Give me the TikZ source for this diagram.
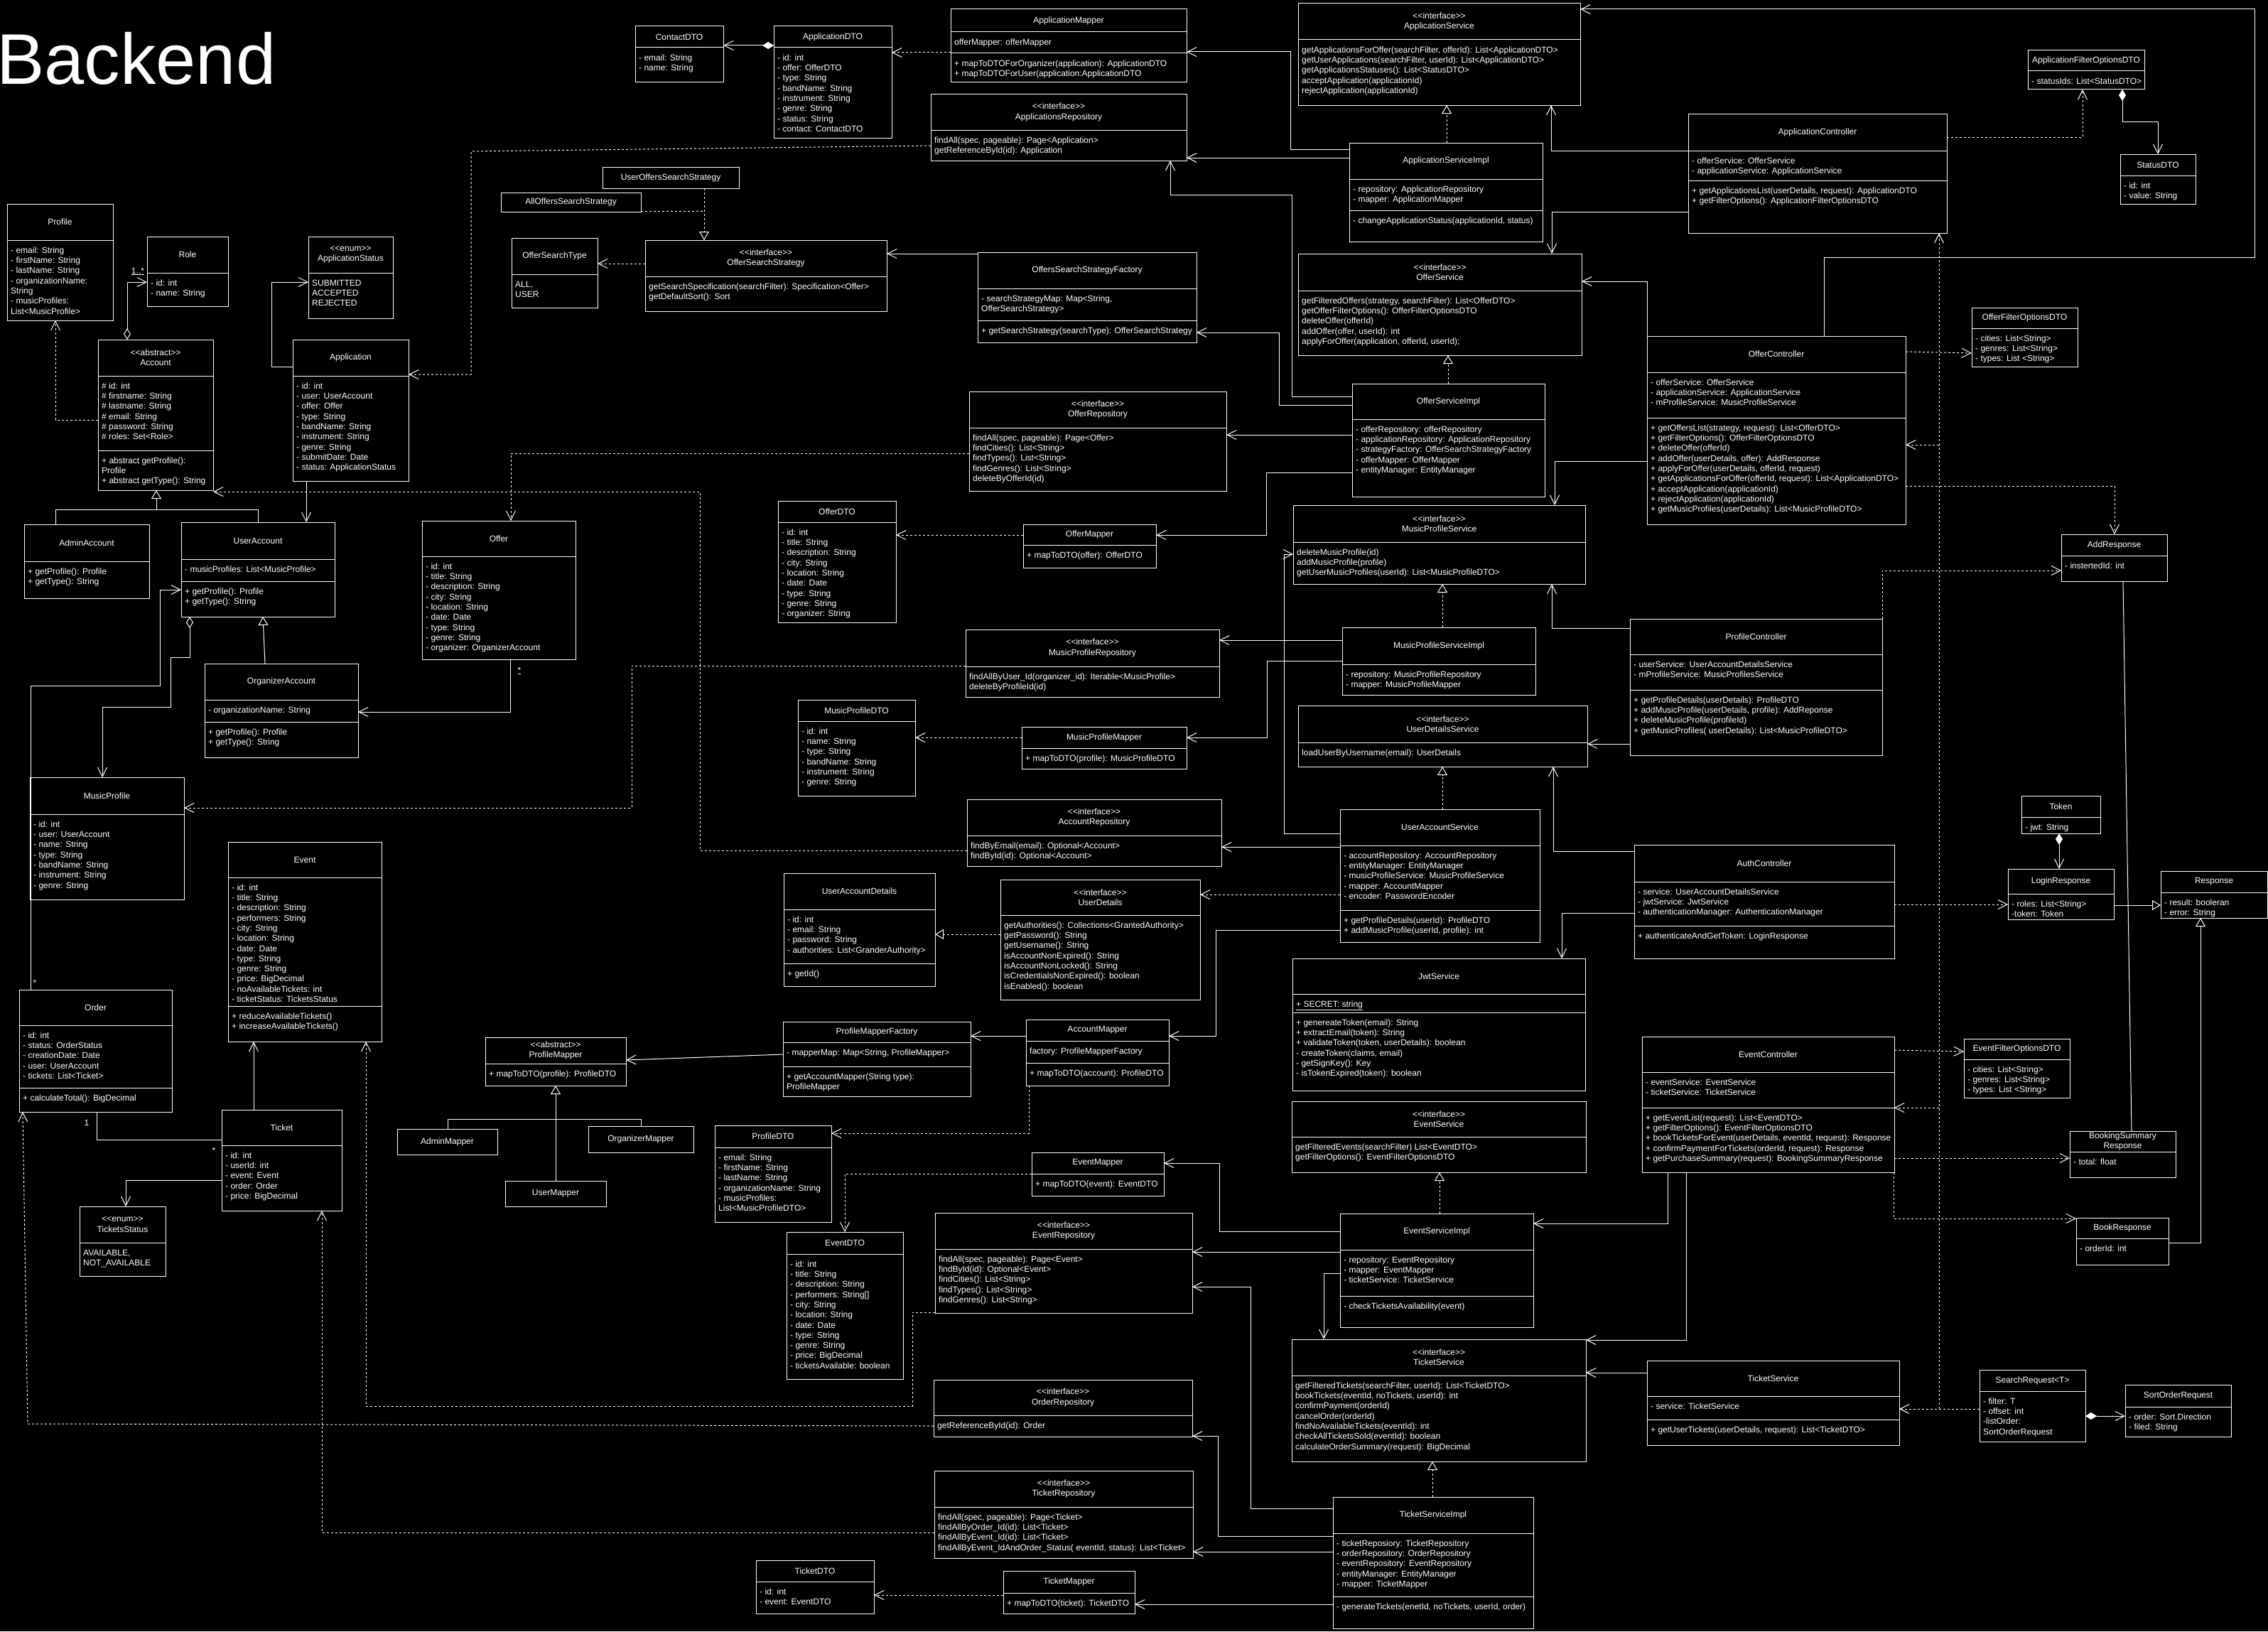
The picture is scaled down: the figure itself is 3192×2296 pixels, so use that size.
\documentclass[tikz,border=0pt]{standalone}
\usepackage{fontspec}
\setmainfont{Liberation Sans}
\usetikzlibrary{arrows.meta,fit}

\newcommand\fs{\fontsize{12}{14.3}\selectfont}
\newcommand\st[1]{<\kern0pt<#1>\kern0pt>}

\tikzset{
  ln/.style={draw=white, line width=1pt},
  box/.style={ln, inner sep=0pt, outer sep=0pt},
  hdr/.style={text=white, align=center, inner sep=0pt, font=\fs},
  body/.style={text=white, align=left, anchor=north west, inner sep=0pt, font=\fs},
  lbl/.style={text=white, inner sep=0pt, font=\fs},
  barb/.tip={Straight Barb[length=13pt,width=13pt,line width=1pt]},
  asc/.style={ln, -barb},
  dep/.style={asc, dash pattern=on 3pt off 3pt},
  real/.style={ln, dash pattern=on 3pt off 3pt, -{Triangle[open,length=12pt,width=14pt,line width=1pt]}},
  gen/.style={ln, -{Triangle[open,length=12pt,width=14pt,line width=1pt]}},
  cmp/.style={ln, {Diamond[length=16pt,width=10pt,fill=white,line width=1pt]}-barb},
  agg/.style={ln, {Diamond[open,length=16pt,width=10pt,line width=1pt]}-barb},
}

% class box: name, x1, y1, x2, y2, bottom of header, header text
\newcommand\cls[7]{%
  \gdef\clsL{#2}\gdef\clsR{#4}%
  \node[box, fit={(#2,#3)(#4,#5)}] (#1) {};
  \node[hdr] at ({(#2+#4)/2},{(#3+#6)/2}) {#7};
}
% compartment of the last class: top edge, text lines
\newcommand\comp[2]{%
  \draw[ln] (\clsL,#1) -- (\clsR,#1);
  \node[body] at ({\clsL+5},{#1+8}) {\strut #2};
}

\begin{document}
\begin{tikzpicture}[x=1pt,y=-1pt]
\useasboundingbox (0,0) rectangle (3192,2296);
\fill[black] (0,0) rectangle (3192,2296);

\node[anchor=base west, inner sep=0pt, text=white, font=\fontsize{101}{104}\selectfont] (title) at (-5,118) {Backend};

% ---------------- domain model ----------------
\cls{Profile}{10}{287}{159}{451}{338}{Profile}
\comp{338}{- email: String\\- firstName: String\\- lastName: String\\- organizationName:\\String\\- musicProfiles:\\List<MusicProfile>}

\cls{Role}{207}{333}{321}{431}{384}{Role}
\comp{384}{- id: int\\- name: String}

\cls{AppStatus}{434}{333}{553}{448}{384}{\st{enum}\\ApplicationStatus}
\comp{384}{SUBMITTED\\ACCEPTED\\REJECTED}

\cls{Account}{138}{478}{300}{690}{529}{\st{abstract}\\Account}
\comp{529}{\# id: int\\\# firstname: String\\\# lastname: String\\\# email: String\\\# password: String\\\# roles: Set<Role>}
\comp{634}{+ abstract getProfile():\\Profile\\+ abstract getType(): String}

\cls{Application}{412}{478}{575}{677}{529}{Application}
\comp{529}{- id: int\\- user: UserAccount\\- offer: Offer\\- type: String\\- bandName: String\\- instrument: String\\- genre: String\\- submitDate: Date\\- status: ApplicationStatus}

\cls{AdminAccount}{34}{738}{210}{842}{790}{AdminAccount}
\comp{790}{+ getProfile(): Profile\\+ getType(): String}

\cls{UserAccount}{255}{735}{471}{868}{787}{UserAccount}
\comp{787}{- musicProfiles: List<MusicProfile>}
\comp{818}{+ getProfile(): Profile\\+ getType(): String}

\cls{Offer}{594}{733}{810}{928}{783}{Offer}
\comp{783}{- id: int\\- title: String\\- description: String\\- city: String\\- location: String\\- date: Date\\- type: String\\- genre: String\\- organizer: OrganizerAccount}

\cls{OrgAccount}{288}{934}{504}{1066}{985}{OrganizerAccount}
\comp{985}{- organizationName: String}
\comp{1016}{+ getProfile(): Profile\\+ getType(): String}

\cls{MusicProfile}{42}{1094}{259}{1266}{1146}{MusicProfile}
\comp{1146}{- id: int\\- user: UserAccount\\- name: String\\- type: String\\- bandName: String\\- instrument: String\\- genre: String}

\cls{Event}{321}{1185}{537}{1466}{1235}{Event}
\comp{1235}{- id: int\\- title: String\\- description: String\\- performers: String\\- city: String\\- location: String\\- date: Date\\- type: String\\- genre: String\\- price: BigDecimal\\- noAvailableTickets: int\\- ticketStatus: TicketsStatus}
\comp{1416}{+ reduceAvailableTickets()\\+ increaseAvailableTickets()}

\cls{Order}{27}{1393}{242}{1565}{1443}{Order}
\comp{1443}{- id: int\\- status: OrderStatus\\- creationDate: Date\\- user: UserAccount\\- tickets: List<Ticket>}
\comp{1531}{+ calculateTotal(): BigDecimal}

\cls{Ticket}{312}{1562}{481}{1704}{1612}{Ticket}
\comp{1612}{- id: int\\- userId: int\\- event: Event\\- order: Order\\- price: BigDecimal}

\cls{TicketsStatus}{112}{1698}{233}{1796}{1749}{\st{enum}\\TicketsStatus}
\comp{1749}{AVAILABLE,\\NOT\_AVAILABLE}

% ---------------- DTOs, mappers, strategies, repositories ----------------
\cls{ContactDTO}{894}{37}{1018}{116}{67}{ContactDTO}
\comp{67}{- email: String\\- name: String}

\cls{AppDTO}{1089}{37}{1255}{194}{67}{ApplicationDTO}
\comp{67}{- id: int\\- offer: OfferDTO\\- type: String\\- bandName: String\\- instrument: String\\- genre: String\\- status: String\\- contact: ContactDTO}

\cls{AppMapper}{1338}{13}{1670}{116}{45}{ApplicationMapper}
\comp{45}{offerMapper: offerMapper}
\comp{75}{+ mapToDTOForOrganizer(application): ApplicationDTO\\+ mapToDTOForUser(application:ApplicationDTO}

\cls{AppsRepo}{1310}{133}{1670}{226}{183}{\st{interface}\\ApplicationsRepository}
\comp{183}{findAll(spec, pageable): Page<Application>\\getReferenceById(id): Application}

\cls{UserOffersStrat}{848}{235}{1040}{265}{265}{UserOffersSearchStrategy}
\cls{AllOffersStrat}{705}{271}{902}{298}{298}{AllOffersSearchStrategy}

\cls{OfferSearchType}{720}{335}{841}{433}{386}{OfferSearchType}
\comp{386}{ALL,\\USER}

\cls{OfferSearchStrat}{908}{338}{1248}{438}{389}{\st{interface}\\OfferSearchStrategy}
\comp{389}{getSearchSpecification(searchFilter): Specification<Offer>\\getDefaultSort(): Sort}

\cls{StratFactory}{1376}{355}{1684}{482}{406}{OffersSearchStrategyFactory}
\comp{406}{- searchStrategyMap: Map<String,\\OfferSearchStrategy>}
\comp{451}{+ getSearchStrategy(searchType): OfferSearchStrategy}

\cls{OfferRepo}{1364}{551}{1726}{691}{602}{\st{interface}\\OfferRepository}
\comp{602}{findAll(spec, pageable): Page<Offer>\\findCities(): List<String>\\findTypes(): List<String>\\findGenres(): List<String>\\deleteByOfferId(id)}

\cls{OfferDTO}{1095}{705}{1261}{876}{735}{OfferDTO}
\comp{735}{- id: int\\- title: String\\- description: String\\- city: String\\- location: String\\- date: Date\\- type: String\\- genre: String\\- organizer: String}

\cls{OfferMapper}{1440}{738}{1627}{799}{767}{OfferMapper}
\comp{767}{+ mapToDTO(offer): OfferDTO}

\cls{ProfileMapper}{683}{1460}{881}{1528}{1497}{\st{abstract}\\ProfileMapper}
\comp{1497}{+ mapToDTO(profile): ProfileDTO}

\cls{MPRepo}{1359}{886}{1716}{981}{938}{\st{interface}\\MusicProfileRepository}
\comp{938}{findAllByUser\_Id(organizer\_id): Iterable<MusicProfile>\\deleteByProfileId(id)}

\cls{MPDTO}{1123}{985}{1288}{1120}{1015}{MusicProfileDTO}
\comp{1015}{- id: int\\- name: String\\- type: String\\- bandName: String\\- instrument: String\\- genre: String}

\cls{MPMapper}{1438}{1023}{1670}{1082}{1053}{MusicProfileMapper}
\comp{1053}{+ mapToDTO(profile): MusicProfileDTO}

\cls{AccountRepo}{1361}{1125}{1719}{1219}{1176}{\st{interface}\\AccountRepository}
\comp{1176}{findByEmail(email): Optional<Account>\\findById(id): Optional<Account>}

\cls{UADetails}{1103}{1229}{1316}{1388}{1280}{UserAccountDetails}
\comp{1280}{- id: int\\- email: String\\- password: String\\- authorities: List<GranderAuthority>}
\comp{1356}{+ getId()}

\cls{UserDetails}{1408}{1238}{1689}{1407}{1288}{\st{interface}\\UserDetails}
\comp{1288}{getAuthorities(): Collections<GrantedAuthority>\\getPassword(): String\\getUsername(): String\\isAccountNonExpired(): String\\isAccountNonLocked(): String\\isCredentialsNonExpired(): boolean\\isEnabled(): boolean}

\cls{PMFactory}{1102}{1438}{1366}{1543}{1467}{ProfileMapperFactory}
\comp{1467}{- mapperMap: Map<String, ProfileMapper>}
\comp{1501}{+ getAccountMapper(String type):\\ProfileMapper}

\cls{AccountMapper}{1444}{1435}{1645}{1528}{1465}{AccountMapper}
\comp{1465}{factory: ProfileMapperFactory}
\comp{1496}{+ mapToDTO(account): ProfileDTO}

\cls{AdminMapper}{559}{1589}{700}{1625}{1625}{AdminMapper}
\cls{UserMapper}{711}{1662}{853}{1698}{1698}{UserMapper}
\cls{OrgMapper}{828}{1585}{976}{1622}{1622}{OrganizerMapper}

\cls{ProfileDTO}{1006}{1584}{1170}{1720}{1615}{ProfileDTO}
\comp{1615}{- email: String\\- firstName: String\\- lastName: String\\- organizationName: String\\- musicProfiles:\\List<MusicProfileDTO>}

\cls{EventMapper}{1452}{1622}{1638}{1683}{1652}{EventMapper}
\comp{1652}{+ mapToDTO(event): EventDTO}

\cls{EventDTO}{1107}{1734}{1271}{1941}{1765}{EventDTO}
\comp{1765}{- id: int\\- title: String\\- description: String\\- performers: String[]\\- city: String\\- location: String\\- date: Date\\- type: String\\- genre: String\\- price: BigDecimal\\- ticketsAvailable: boolean}

\cls{EventRepo}{1316}{1707}{1678}{1848}{1758}{\st{interface}\\EventRepository}
\comp{1758}{findAll(spec, pageable): Page<Event>\\findById(id): Optional<Event>\\findCities(): List<String>\\findTypes(): List<String>\\findGenres(): List<String>}

\cls{OrderRepo}{1314}{1942}{1678}{2022}{1992}{\st{interface}\\OrderRepository}
\comp{1992}{getReferenceById(id): Order}

\cls{TicketRepo}{1315}{2070}{1679}{2193}{2121}{\st{interface}\\TicketRepository}
\comp{2121}{findAll(spec, pageable): Page<Ticket>\\findAllByOrder\_Id(id): List<Ticket>\\findAllByEvent\_Id(id): List<Ticket>\\findAllByEvent\_IdAndOrder\_Status( eventId, status): List<Ticket>}

\cls{TicketDTO}{1064}{2196}{1230}{2271}{2226}{TicketDTO}
\comp{2226}{- id: int\\- event: EventDTO}

\cls{TicketMapper}{1412}{2211}{1597}{2271}{2242}{TicketMapper}
\comp{2242}{+ mapToDTO(ticket): TicketDTO}

% ---------------- services ----------------
\cls{AppService}{1827}{5}{2224}{148}{56}{\st{interface}\\ApplicationService}
\comp{56}{getApplicationsForOffer(searchFilter,  offerId): List<ApplicationDTO>\\getUserApplications(searchFilter, userId): List<ApplicationDTO>\\getApplicationsStatuses(): List<StatusDTO>\\acceptApplication(applicationId)\\rejectApplication(applicationId)}

\cls{AppServiceImpl}{1899}{201}{2171}{340}{252}{ApplicationServiceImpl}
\comp{252}{- repository: ApplicationRepository\\- mapper: ApplicationMapper}
\comp{296}{- changeApplicationStatus(applicationId, status)}

\cls{OfferService}{1827}{357}{2226}{500}{409}{\st{interface}\\OfferService}
\comp{409}{getFilteredOffers(strategy, searchFilter): List<OfferDTO>\\getOfferFilterOptions(): OfferFilterOptionsDTO\\deleteOffer(offerId)\\addOffer(offer, userId): int\\applyForOffer(application, offerId, userId);}

\cls{OfferServiceImpl}{1903}{540}{2174}{699}{590}{OfferServiceImpl}
\comp{590}{- offerRepository: offerRepository\\- applicationRepository: ApplicationRepository\\- strategyFactory: OfferSearchStrategyFactory\\- offerMapper: OfferMapper\\- entityManager: EntityManager}

\cls{MPService}{1820}{711}{2231}{822}{763}{\st{interface}\\MusicProfileService}
\comp{763}{deleteMusicProfile(id)\\addMusicProfile(profile)\\getUserMusicProfiles(userId): List<MusicProfileDTO>}

\cls{MPServiceImpl}{1889}{883}{2161}{978}{935}{MusicProfileServiceImpl}
\comp{935}{- repository: MusicProfileRepository\\- mapper: MusicProfileMapper}

\cls{UDService}{1827}{993}{2234}{1079}{1045}{\st{interface}\\UserDetailsService}
\comp{1045}{loadUserByUsername(email): UserDetails}

\cls{UAService}{1886}{1139}{2167}{1326}{1190}{UserAccountService}
\comp{1190}{- accountRepository: AccountRepository\\- entityManager: EntityManager\\- musicProfileService: MusicProfileService\\- mapper: AccountMapper\\- encoder: PasswordEncoder}
\comp{1281}{+ getProfileDetails(userId): ProfileDTO\\+ addMusicProfile(userId, profile): int}

\cls{JwtService}{1819}{1349}{2231}{1535}{1399}{JwtService}
\comp{1399}{\underline{+ SECRET: string}}
\comp{1425}{+ genereateToken(email): String\\+ extractEmail(token): String\\+ validateToken(token, userDetails): boolean\\- createToken(claims, email)\\- getSignKey(): Key\\- isTokenExpired(token): boolean}

\cls{EventService}{1818}{1550}{2232}{1650}{1600}{\st{interface}\\EventService}
\comp{1600}{getFilteredEvents(searchFilter) List<EventDTO>\\getFilterOptions(): EventFilterOptionsDTO}

\cls{EventServiceImpl}{1886}{1708}{2158}{1868}{1759}{EventServiceImpl}
\comp{1759}{- repository: EventRepository\\- mapper: EventMapper\\- ticketService: TicketService}
\comp{1824}{- checkTicketsAvailability(event)}

\cls{TicketService}{1818}{1885}{2232}{2057}{1936}{\st{interface}\\TicketService}
\comp{1936}{getFilteredTickets(searchFilter, userId): List<TicketDTO>\\bookTickets(eventId, noTickets, userId): int\\confirmPayment(orderId)\\cancelOrder(orderId)\\findNoAvailableTickets(eventId): int\\checkAllTicketsSold(eventId): boolean\\calculateOrderSummary(request): BigDecimal}

\cls{TicketServiceImpl}{1876}{2107}{2158}{2292}{2158}{TicketServiceImpl}
\comp{2158}{- ticketReposiory: TicketRepository\\- orderRepository: OrderRepository\\- eventRepository: EventRepository\\- entityManager: EntityManager\\- mapper: TicketMapper}
\comp{2247}{- generateTickets(enetId, noTickets, userId, order)}

% ---------------- controllers ----------------
\cls{AppController}{2376}{160}{2740}{328}{212}{ApplicationController}
\comp{212}{- offerService: OfferService\\- applicationService: ApplicationService}
\comp{254}{+ getApplicationsList(userDetails, request): ApplicationDTO\\+ getFilterOptions(): ApplicationFilterOptionsDTO}

\cls{OfferController}{2318}{473}{2682}{738}{524}{OfferController}
\comp{524}{- offerService: OfferService\\- applicationService: ApplicationService\\- mProfileService: MusicProfileService}
\comp{588}{+ getOffersList(strategy, request): List<OfferDTO>\\+ getFilterOptions(): OfferFilterOptionsDTO\\+ deleteOffer(offerId)\\+ addOffer(userDetails, offer): AddResponse\\+ applyForOffer(userDetails, offerId, request)\\+ getApplicationsForOffer(offerId, request): List<ApplicationDTO>\\+ acceptApplication(applicationId)\\+ rejectApplication(applicationId)\\+ getMusicProfiles(userDetails): List<MusicProfileDTO>}

\cls{ProfileController}{2294}{871}{2649}{1063}{921}{ProfileController}
\comp{921}{- userService: UserAccountDetailsService\\- mProfileService: MusicProfilesService}
\comp{971}{+ getProfileDetails(userDetails): ProfileDTO\\+ addMusicProfile(userDetails, profile): AddReponse\\+ deleteMusicProfile(profileId)\\+ getMusicProfiles( userDetails): List<MusicProfileDTO>}

\cls{AuthController}{2300}{1189}{2666}{1349}{1241}{AuthController}
\comp{1241}{- service: UserAccountDetailsService\\- jwtService: JwtService\\- authenticationManager: AuthenticationManager}
\comp{1303}{+ authenticateAndGetToken: LoginResponse}

\cls{EventController}{2311}{1459}{2666}{1650}{1509}{EventController}
\comp{1509}{- eventService: EventService\\- ticketService: TicketService}
\comp{1559}{+ getEventList(request): List<EventDTO>\\+ getFilterOptions(): EventFilterOptionsDTO\\+ bookTicketsForEvent(userDetails, eventId, request): Response\\+ confirmPaymentForTickets(orderId, request): Response\\+ getPurchaseSummary(request): BookingSummaryResponse}

\cls{TicketCtrl}{2318}{1915}{2673}{2034}{1965}{TicketService}
\comp{1965}{- service: TicketService}
\comp{1998}{+ getUserTickets(userDetails, request): List<TicketDTO>}

% ---------------- request / response objects ----------------
\cls{AppFilterDTO}{2854}{71}{3018}{126}{100}{ApplicationFilterOptionsDTO}
\comp{100}{- statusIds: List<StatusDTO>}

\cls{StatusDTO}{2984}{217}{3090}{287}{247}{StatusDTO}
\comp{247}{- id: int\\- value: String}

\cls{OfferFilterDTO}{2775}{433}{2924}{516}{462}{OfferFilterOptionsDTO}
\comp{462}{- cities: List<String>\\- genres: List<String>\\- types: List <String>}

\cls{AddResponse}{2901}{752}{3050}{818}{782}{AddResponse}
\comp{782}{- instertedId: int}

\cls{Token}{2845}{1120}{2956}{1173}{1150}{Token}
\comp{1150}{- jwt: String}

\cls{LoginResponse}{2826}{1223}{2975}{1294}{1258}{LoginResponse}
\comp{1258}{- roles: List<String>\\-token: Token}

\cls{Response}{3041}{1226}{3191}{1292}{1256}{Response}
\comp{1256}{- result: booleran\\- error: String}

\cls{EventFilterDTO}{2764}{1462}{2913}{1545}{1491}{EventFilterOptionsDTO}
\comp{1491}{- cities: List<String>\\- genres: List<String>\\- types: List <String>}

\cls{BookingSummary}{2913}{1592}{3062}{1657}{1621}{BookingSummary\\Response}
\comp{1621}{- total: float}

\cls{BookResponse}{2922}{1714}{3052}{1780}{1743}{BookResponse}
\comp{1743}{- orderId: int}

\cls{SearchRequest}{2786}{1928}{2935}{2029}{1958}{SearchRequest<T>}
\comp{1958}{- filter: T\\- offset: int\\-listOrder:\\SortOrderRequest}

\cls{SortOrder}{2991}{1949}{3140}{2022}{1980}{SortOrderRequest}
\comp{1980}{- order: Sort.Direction\\- filed: String}

% ---------------- connectors: domain ----------------
\draw[agg] (Account.north-|179,0) |- (Role.west|-0,397);
\node[lbl] at (194,382) {\underline{1..*}};
\draw[dep] (Account.west|-0,591) -| (Profile.south-|78,0);
\draw[asc] (Application.west|-0,516) -- (382,516) |- (AppStatus.west|-0,397);
\draw[asc] (Application.south-|431,0) -- (UserAccount.north-|431,0);
\draw[dep] (AppsRepo.west|-0,205) -- (663,213) -- (663,527) -- (Application.east|-0,527);
\draw[gen] (AdminAccount.north-|78,0) |- (220,717) -- (Account.south-|220,0);
\draw[ln] (UserAccount.north-|363,0) |- (220,717);
\draw[dep] (OfferRepo.west|-0,638) -| (Offer.north-|719,0);
\draw[dep] (AccountRepo.west|-0,1197) -| (985,692) -- (Account.east|-0,692);
\draw[dep] (MPRepo.west|-0,937) -| (889,1137) -- (MusicProfile.east|-0,1137);
\draw[agg] (UserAccount.south-|267,0) -- (267,925) -- (240,925) -- (240,995) -- (144,995) -- (MusicProfile.north-|144,0);
\draw[asc] (Order.north-|43,0) -- (43,965) -- (225,965) -- (225,830) -- (UserAccount.west|-0,830);
\node[lbl] at (49,1383) {*};
\draw[gen] (OrgAccount.north-|373,0) -- (UserAccount.south-|370,0);
\draw[asc] (Offer.south-|718,0) |- (OrgAccount.east|-0,1002);
\node[lbl] at (731,944) {\underline{*}};
\draw[asc] (Ticket.north-|357,0) -- (Event.south-|357,0);
\draw[dep] (EventRepo.west|-0,1847) -| (1284,1979) -| (Event.south-|515,0);
\draw[ln] (Order.south-|136,0) |- (Ticket.west|-0,1604);
\node[lbl] at (122,1580) {1};
\node[lbl] at (301,1619) {*};
\draw[asc] (Ticket.west|-0,1661) -| (TicketsStatus.north-|177,0);
\draw[dep] (OrderRepo.west|-0,2007) -- (39,2004) -- (Order.south-|32,0);
\draw[dep] (TicketRepo.west|-0,2157) -| (Ticket.south-|453,0);
\draw[gen] (AdminMapper.north-|630,0) -- (630,1575) -- (782,1575) -- (ProfileMapper.south-|782,0);
\draw[ln] (OrgMapper.north-|902,0) |- (782,1575);
\draw[ln] (UserMapper.north-|782,0) -- (782,1575);

% ---------------- connectors: DTOs, strategies, mappers ----------------
\draw[cmp] (AppDTO.west|-0,64) -- (ContactDTO.east|-0,64);
\draw[dep] (AppMapper.west|-0,74) -- (AppDTO.east|-0,74);
\draw[real] (UserOffersStrat.south-|991,0) -- (OfferSearchStrat.north-|991,0);
\draw[ln, dash pattern=on 3pt off 3pt] (AllOffersStrat.east|-0,297) -- (991,297);
\draw[dep] (OfferSearchStrat.west|-0,371) -- (OfferSearchType.east|-0,371);
\draw[asc] (StratFactory.west|-0,357) -- (OfferSearchStrat.east|-0,357);
\draw[dep] (OfferMapper.west|-0,753) -- (OfferDTO.east|-0,753);
\draw[dep] (MPMapper.west|-0,1038) -- (MPDTO.east|-0,1038);
\draw[real] (UserDetails.west|-0,1315) -- (UADetails.east|-0,1315);
\draw[asc] (PMFactory.west|-0,1484) -- (ProfileMapper.east|-0,1492);
\draw[asc] (AccountMapper.west|-0,1458) -- (PMFactory.east|-0,1458);
\draw[dep] (AccountMapper.south-|1448,0) |- (ProfileDTO.east|-0,1595);
\draw[dep] (EventMapper.west|-0,1652) -| (EventDTO.north-|1189,0);
\draw[dep] (TicketMapper.west|-0,2245) -- (TicketDTO.east|-0,2245);

% ---------------- connectors: services ----------------
\draw[real] (AppServiceImpl.north-|2036,0) -- (AppService.south-|2036,0);
\draw[asc] (AppServiceImpl.west|-0,210) -| (1816,73) -- (AppMapper.east|-0,73);
\draw[asc] (AppServiceImpl.west|-0,222) -- (AppsRepo.east|-0,222);
\draw[asc] (OfferServiceImpl.west|-0,558) -| (1818,274) -| (AppsRepo.south-|1647,0);
\draw[real] (OfferServiceImpl.north-|2038,0) -- (OfferService.south-|2038,0);
\draw[asc] (OfferServiceImpl.west|-0,570) -| (1800,468) -- (StratFactory.east|-0,468);
\draw[asc] (OfferServiceImpl.west|-0,612) -- (OfferRepo.east|-0,612);
\draw[asc] (OfferServiceImpl.west|-0,665) -| (1782,753) -- (OfferMapper.east|-0,753);
\draw[asc] (UAService.west|-0,1173) -| (1807,780) -- (MPService.west|-0,780);
\draw[real] (MPServiceImpl.north-|2030,0) -- (MPService.south-|2030,0);
\draw[asc] (MPServiceImpl.west|-0,901) -- (MPRepo.east|-0,901);
\draw[asc] (MPServiceImpl.west|-0,930) -| (1783,1038) -- (MPMapper.east|-0,1038);
\draw[real] (UAService.north-|2030,0) -- (UDService.south-|2030,0);
\draw[asc] (UAService.west|-0,1192) -- (AccountRepo.east|-0,1192);
\draw[dep] (UAService.west|-0,1259) -- (UserDetails.east|-0,1259);
\draw[asc] (UAService.west|-0,1309) -| (1711,1458) -- (AccountMapper.east|-0,1458);
\draw[real] (EventServiceImpl.north-|2026,0) -- (EventService.south-|2026,0);
\draw[asc] (EventServiceImpl.west|-0,1733) -| (1716,1637) -- (EventMapper.east|-0,1637);
\draw[asc] (EventServiceImpl.west|-0,1762) -- (EventRepo.east|-0,1762);
\draw[asc] (EventServiceImpl.west|-0,1792) -| (TicketService.north-|1863,0);
\draw[real] (TicketServiceImpl.north-|2016,0) -- (TicketService.south-|2016,0);
\draw[asc] (TicketServiceImpl.west|-0,2123) -| (1760,1811) -- (EventRepo.east|-0,1811);
\draw[asc] (TicketServiceImpl.west|-0,2162) -| (1714,2021) -- (OrderRepo.east|-0,2021);
\draw[asc] (TicketServiceImpl.west|-0,2184) -- (TicketRepo.east|-0,2184);
\draw[asc] (TicketServiceImpl.west|-0,2258) -- (TicketMapper.east|-0,2258);

% ---------------- connectors: controllers ----------------
\draw[asc] (AppController.west|-0,212) -| (AppService.south-|2183,0);
\draw[asc] (AppController.west|-0,298) -| (OfferService.north-|2184,0);
\draw[asc] (OfferController.north-|2567,0) |- (3173,362) |- (AppService.east|-0,13);
\draw[asc] (OfferController.north-|2318,0) |- (OfferService.east|-0,396);
\draw[asc] (OfferController.west|-0,649) -| (MPService.north-|2188,0);
\draw[dep] (AppController.east|-0,193) -| (AppFilterDTO.south-|2931,0);
\draw[cmp] (AppFilterDTO.south-|2987,0) |- (3037,171) -- (StatusDTO.north-|3037,0);
\draw[dep] (OfferController.east|-0,495) -- (OfferFilterDTO.west|-0,497);
\draw[dep] (OfferController.east|-0,684) -| (AddResponse.north-|2976,0);
\draw[dep] (ProfileController.north-|2649,0) |- (AddResponse.west|-0,803);
\draw[ln] (AddResponse.south-|2988,0) -- (BookingSummary.north-|3000,0);
\draw[asc] (ProfileController.west|-0,884) -| (MPService.south-|2184,0);
\draw[asc] (ProfileController.west|-0,1047) -- (UDService.east|-0,1047);
\draw[asc] (AuthController.west|-0,1198) -| (UDService.south-|2186,0);
\draw[asc] (AuthController.west|-0,1285) -| (JwtService.north-|2198,0);
\draw[cmp] (Token.south-|2898,0) -- (LoginResponse.north-|2898,0);
\draw[dep] (AuthController.east|-0,1273) -- (LoginResponse.west|-0,1273);
\draw[gen] (LoginResponse.east|-0,1274) -- (Response.west|-0,1274);
\draw[gen] (BookResponse.east|-0,1749) -| (Response.south-|3097,0);
\draw[dep] (EventController.east|-0,1478) -- (EventFilterDTO.west|-0,1480);
\draw[dep] (EventController.east|-0,1630) -- (BookingSummary.west|-0,1630);
\draw[dep] (EventController.south-|2665,0) |- (BookResponse.west|-0,1715);
\draw[asc] (EventController.south-|2347,0) |- (EventServiceImpl.east|-0,1722);
\draw[asc] (EventController.south-|2373,0) |- (TicketService.east|-0,1886);
\draw[asc] (TicketCtrl.west|-0,1932) -- (TicketService.east|-0,1932);
\draw[cmp] (SearchRequest.east|-0,1993) -- (SortOrder.west|-0,1993);

% SearchRequest is used by every controller
\draw[dep] (SearchRequest.west|-0,1983) -- (TicketCtrl.east|-0,1983);
\draw[dep] (2729,1983) -- (AppController.south-|2729,0);
\draw[dep] (2729,1559) -- (EventController.east|-0,1559);
\draw[dep] (2729,626) -- (OfferController.east|-0,626);
\end{tikzpicture}
\end{document}
